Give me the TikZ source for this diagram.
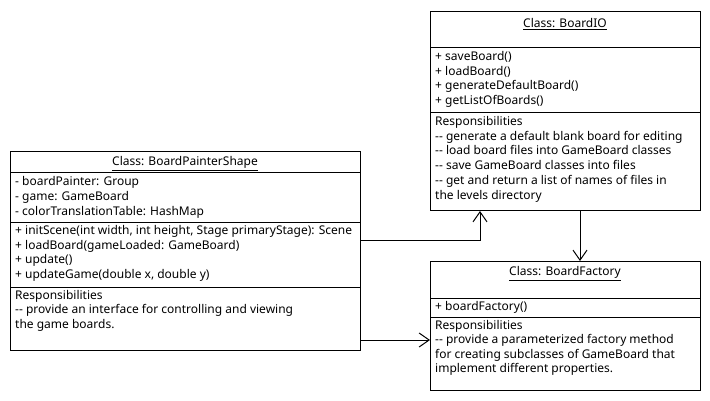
\documentclass[tikz,border=0pt]{standalone}
\usepackage{fontspec}
\setmainfont{Noto Sans}
\usetikzlibrary{arrows.meta}
\newcommand{\dd}{-{}-}
\begin{document}
\begin{tikzpicture}[x=1pt,y=-1pt,
  box/.style={draw,line width=1pt,anchor=north west,inner sep=0pt},
  sep/.style={line width=1pt},
  txt/.style={anchor=mid west,inner sep=0pt,font=\fontsize{12}{14}\selectfont},
  ttl/.style={anchor=mid,inner sep=0pt,font=\fontsize{12}{14}\selectfont},
  arr/.style={line width=1pt,-{Straight Barb[length=10pt,width=14pt,line width=1pt]}}]
\useasboundingbox (0,0) rectangle (710,400);
% boxes
\node[box,minimum width=350,minimum height=199] (bps) at (10,151) {};
\node[box,minimum width=270,minimum height=199] (io) at (430,11) {};
\node[box,minimum width=270,minimum height=129] (fac) at (430,261) {};
% separators
\draw[sep] (10,172) -- (360,172);
\draw[sep] (10,222) -- (360,222);
\draw[sep] (10,287) -- (360,287);
\draw[sep] (430,47) -- (700,47);
\draw[sep] (430,112) -- (700,112);
\draw[sep] (430,298) -- (700,298);
\draw[sep] (430,317) -- (700,317);
% BoardPainterShape
\node[ttl] (t1) at (185,163) {\underline{Class: BoardPainterShape}};
\node[txt] (a1) at (15,183) {- boardPainter: Group};
\node[txt] (a2) at (15,198) {- game: GameBoard};
\node[txt] (a3) at (15,213) {- colorTranslationTable: HashMap};
\node[txt] (m1) at (15,232) {+ initScene(int width, int height, Stage primaryStage): Scene};
\node[txt] (m2) at (15,247) {+ loadBoard(gameLoaded: GameBoard)};
\node[txt] (m3) at (15,261) {+ update()};
\node[txt] (m4) at (15,276) {+ updateGame(double x, double y)};
\node[txt] (r1) at (15,297) {Responsibilities};
\node[txt] (r2) at (15,311) {\dd{} provide an interface for controlling and viewing};
\node[txt] (r3) at (15,326) {the game boards.};
% BoardIO
\node[ttl] (t2) at (565,25) {\underline{Class: BoardIO}};
\node[txt] (b1) at (435,58) {+ saveBoard()};
\node[txt] (b2) at (435,73) {+ loadBoard()};
\node[txt] (b3) at (435,87) {+ generateDefaultBoard()};
\node[txt] (b4) at (435,102) {+ getListOfBoards()};
\node[txt] (c1) at (435,123) {Responsibilities};
\node[txt] (c2) at (435,138) {\dd{} generate a default blank board for editing};
\node[txt] (c3) at (435,152) {\dd{} load board files into GameBoard classes};
\node[txt] (c4) at (435,167) {\dd{} save GameBoard classes into files};
\node[txt] (c5) at (435,182) {\dd{} get and return a list of names of files in};
\node[txt] (c6) at (435,197) {the levels directory};
% BoardFactory
\node[ttl] (t3) at (565,273) {\underline{Class: BoardFactory}};
\node[txt] (f1) at (435,308) {+ boardFactory()};
\node[txt] (d1) at (435,327) {Responsibilities};
\node[txt] (d2) at (435,341) {\dd{} provide a parameterized factory method};
\node[txt] (d3) at (435,356) {for creating subclasses of GameBoard that};
\node[txt] (d4) at (435,370) {implement different properties.};
% connectors
\coordinate (p1) at (bps.east |- 0,240);
\coordinate (p2) at (io.south -| 480,0);
\coordinate (p3) at (io.south -| 580,0);
\coordinate (p4) at (fac.north -| 580,0);
\coordinate (p5) at (bps.east |- 0,340);
\coordinate (p6) at (fac.west |- 0,340);
\draw[arr] (p1) -| (p2);
\draw[arr] (p3) -- (p4);
\draw[arr] (p5) -- (p6);
\end{tikzpicture}
\end{document}
